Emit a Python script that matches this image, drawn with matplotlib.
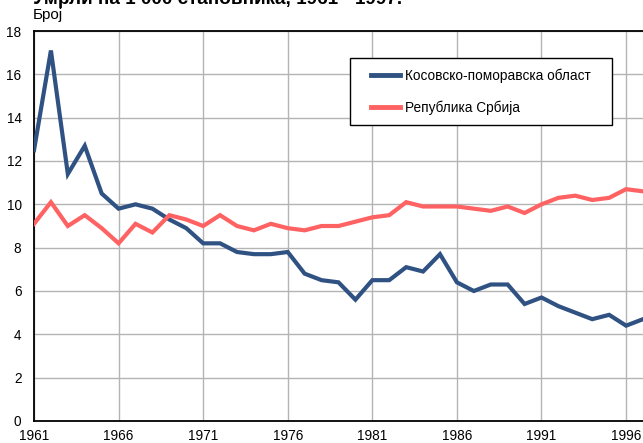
import matplotlib
matplotlib.use('Agg')
import matplotlib.pyplot as plt
from matplotlib.legend_handler import HandlerLine2D

plt.rcParams['font.family'] = ['Liberation Sans', 'DejaVu Sans']

years = list(range(1961, 1998))
kosovo = [12.5, 17.1, 11.4, 12.7, 10.5, 9.8, 10.0, 9.8, 9.3, 8.9,
          8.2, 8.2, 7.8, 7.7, 7.7, 7.8, 6.8, 6.5, 6.4, 5.6,
          6.5, 6.5, 7.1, 6.9, 7.7, 6.4, 6.0, 6.3, 6.3, 5.4,
          5.7, 5.3, 5.0, 4.7, 4.9, 4.4, 4.7]
serbia = [9.1, 10.1, 9.0, 9.5, 8.9, 8.2, 9.1, 8.7, 9.5, 9.3,
          9.0, 9.5, 9.0, 8.8, 9.1, 8.9, 8.8, 9.0, 9.0, 9.2,
          9.4, 9.5, 10.1, 9.9, 9.9, 9.9, 9.8, 9.7, 9.9, 9.6,
          10.0, 10.3, 10.4, 10.2, 10.3, 10.7, 10.6]
labels = ['Косовско-поморавска област', 'Република Србија']
title = 'Умрли на 1 000 становника, 1961 - 1997.'
ylabel = 'Број'
xticks = list(range(1961, 1997, 5))
yticks = list(range(0, 19, 2))

BLUE = '#2f5283'
RED = '#ff6262'


class ShiftedLine(HandlerLine2D):
  # draw the legend line only in the right part of the handle box
  def create_artists(self, legend, orig_handle, xdescent, ydescent, width, height, fontsize, trans):
    artists = super().create_artists(legend, orig_handle, xdescent, ydescent, width, height, fontsize, trans)
    line = artists[0]
    xs = line.get_xdata()
    ys = line.get_ydata()
    x0, x1 = xs[0], xs[-1]
    line.set_data([x0 + 0.27 * (x1 - x0), x1], [ys[0], ys[0]])
    return artists


fig = plt.figure(figsize=(6.43, 4.43), dpi=100)
ax = fig.add_axes([34 / 643, 1 - 421 / 443, 609 / 643, 390 / 443])

ax.plot(years, kosovo, color=BLUE, lw=3.0, label=labels[0], solid_joinstyle='miter', zorder=3)
ax.plot(years, serbia, color=RED, lw=3.0, label=labels[1], solid_joinstyle='miter', zorder=3)

ax.set_xlim(1961, 1997)
ax.set_ylim(0, 18)
ax.set_xticks(xticks)
ax.set_yticks(yticks)
ax.grid(True, color='#b4b4b4', lw=1.0)
ax.set_axisbelow(True)
ax.tick_params(length=0, labelsize=9.8)
ax.tick_params(axis='x', pad=5.5)
ax.tick_params(axis='y', pad=9)
for s in ['left', 'bottom', 'top']:
  ax.spines[s].set_color('black')
  ax.spines[s].set_linewidth(1.3)
ax.spines['right'].set_visible(False)

leg = ax.legend(loc='upper left', bbox_to_anchor=(0.519, 0.931, 0.43, 0.0), mode='expand',
                fancybox=False, edgecolor='black', framealpha=1, fontsize=9.8,
                handlelength=2.95, handletextpad=0.35, labelspacing=1.3, borderpad=0.75,
                borderaxespad=0, handler_map={plt.Line2D: ShiftedLine()})
leg.get_frame().set_linewidth(1.0)
for line in leg.get_lines():
  line.set_linewidth(3.5)

fig.text(33 / 643, 1 - 3.5 / 443, title, fontsize=13.6, fontweight='bold', va='baseline', ha='left')
fig.text(33 / 643, 1 - 15 / 443, ylabel, fontsize=11, va='center', ha='left')

fig.savefig('out.png', dpi=100)
